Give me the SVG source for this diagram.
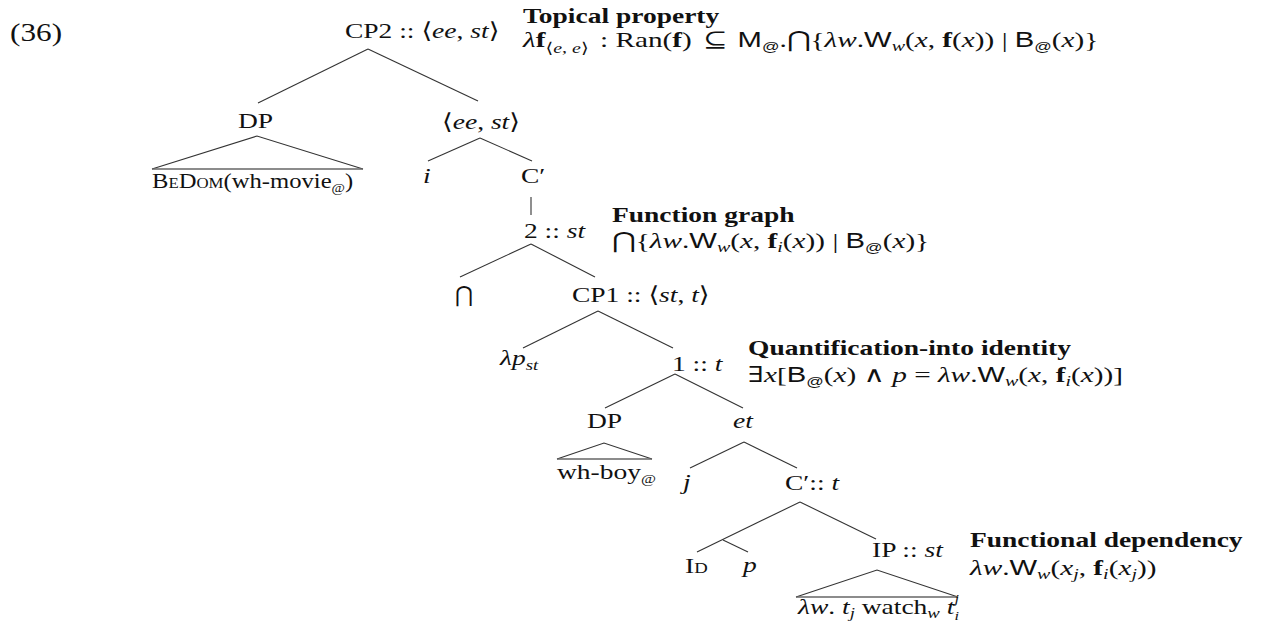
<svg xmlns="http://www.w3.org/2000/svg" width="1261" height="636" viewBox="0 0 1261 636">
<style>
text { font-family: "Liberation Serif", "DejaVu Serif", serif; font-size: 22px; fill: #111; }
.b { font-weight: bold; }
.it { font-style: italic; }
.bf { font-weight: bold; font-style: normal; }
.sf { font-family: "Liberation Sans", "DejaVu Sans", sans-serif; font-style: normal; }
.sc { font-size: 15px; }
.s { font-size: 15px; }
.ss { font-size: 13px; }
.edge { stroke: #333; stroke-width: 1.1; fill: none; }
.base { stroke: #666; stroke-width: 1.6; fill: none; }
</style>
<rect width="1261" height="636" fill="#fff"/>

<g id="connectors">
  <line class="edge" x1="368" y1="49" x2="258" y2="103"/>
  <line class="edge" x1="368" y1="49" x2="478" y2="101"/>
  <path class="edge" d="M152,169 L257,136 L363,169"/>
  <line class="base" x1="152" y1="169" x2="363" y2="169"/>
  <line class="edge" x1="480" y1="138" x2="428" y2="161"/>
  <line class="edge" x1="480" y1="138" x2="532" y2="161"/>
  <line class="edge" x1="531" y1="197" x2="531" y2="215"/>
  <line class="edge" x1="531" y1="244" x2="460" y2="277"/>
  <line class="edge" x1="531" y1="244" x2="595" y2="277"/>
  <line class="edge" x1="598" y1="311" x2="523" y2="348"/>
  <line class="edge" x1="598" y1="311" x2="673" y2="348"/>
  <line class="edge" x1="675" y1="374" x2="605" y2="408"/>
  <line class="edge" x1="675" y1="374" x2="743" y2="408"/>
  <path class="edge" d="M557,459 L604,443 L652,459"/>
  <line class="base" x1="557" y1="459" x2="652" y2="459"/>
  <line class="edge" x1="744" y1="442" x2="690" y2="468"/>
  <line class="edge" x1="744" y1="442" x2="797" y2="468"/>
  <line class="edge" x1="800" y1="502" x2="697" y2="552"/>
  <line class="edge" x1="723" y1="540" x2="748" y2="552"/>
  <line class="edge" x1="800" y1="502" x2="876" y2="539"/>
  <path class="edge" d="M796,597 L877,570 L958,597"/>
  <line class="base" x1="796" y1="597" x2="958" y2="597"/>
</g>

<g id="ex-number"><text transform="translate(10 41) scale(1.25 1)" style="font-size:25px">(36)</text></g>

<g id="cp2"><text transform="translate(345 38) scale(1.25 1)">CP2 :: ⟨<tspan class="it">ee</tspan>, <tspan class="it">st</tspan>⟩</text></g>

<g id="ann-topical">
  <text class="b" transform="translate(523 23) scale(1.25 1)">Topical property</text>
  <text transform="translate(523 47) scale(1.33 1)"><tspan class="it">λ</tspan><tspan class="bf">f</tspan><tspan class="s" dy="6">⟨<tspan class="it">e</tspan>, <tspan class="it">e</tspan>⟩</tspan><tspan dy="-6" dx="3"> : Ran(</tspan><tspan class="bf">f</tspan>)<tspan dx="3"> ⊆ </tspan><tspan class="sf" dx="2">M</tspan><tspan class="sf ss" dy="4">@</tspan><tspan dy="-4">.⋂{</tspan><tspan class="it">λw</tspan>.<tspan class="sf">W</tspan><tspan class="it s" dy="4">w</tspan><tspan dy="-4">(</tspan><tspan class="it">x</tspan>, <tspan class="bf">f</tspan>(<tspan class="it">x</tspan>)) | <tspan class="sf">B</tspan><tspan class="sf ss" dy="4">@</tspan><tspan dy="-4">(</tspan><tspan class="it">x</tspan>)}</text>
</g>

<g id="dp1"><text transform="translate(238 128) scale(1.25 1)">DP</text></g>
<g id="bedom"><text transform="translate(152 188) scale(1.12 1)">B<tspan class="sc">E</tspan>D<tspan class="sc">OM</tspan>(wh-movie<tspan class="ss" dy="4">@</tspan><tspan dy="-4">)</tspan></text></g>

<g id="ee-st"><text transform="translate(442 129) scale(1.25 1)">⟨<tspan class="it">ee</tspan>, <tspan class="it">st</tspan>⟩</text></g>
<g id="i"><text class="it" transform="translate(423 183) scale(1.25 1)">i</text></g>
<g id="cbar"><text transform="translate(521 183) scale(1.25 1)">C′</text></g>

<g id="two"><text transform="translate(524 238) scale(1.25 1)">2 :: <tspan class="it">st</tspan></text></g>
<g id="ann-function-graph">
  <text class="b" transform="translate(612 222) scale(1.25 1)">Function graph</text>
  <text transform="translate(612 248) scale(1.33 1)">⋂{<tspan class="it">λw</tspan>.<tspan class="sf">W</tspan><tspan class="it s" dy="4">w</tspan><tspan dy="-4">(</tspan><tspan class="it">x</tspan>, <tspan class="bf">f</tspan><tspan class="it s" dy="4">i</tspan><tspan dy="-4">(</tspan><tspan class="it">x</tspan>)) | <tspan class="sf">B</tspan><tspan class="sf ss" dy="4">@</tspan><tspan dy="-4">(</tspan><tspan class="it">x</tspan>)}</text>
</g>

<g id="bigcap"><text transform="translate(455 302)">⋂</text></g>
<g id="cp1"><text transform="translate(572 302) scale(1.25 1)">CP1 :: ⟨<tspan class="it">st</tspan>, <tspan class="it">t</tspan>⟩</text></g>

<g id="lambda-p"><text transform="translate(500 365) scale(1.25 1)"><tspan class="it">λp</tspan><tspan class="it s" dy="5">st</tspan></text></g>
<g id="one"><text transform="translate(672 371) scale(1.25 1)">1 :: <tspan class="it">t</tspan></text></g>
<g id="ann-quantification">
  <text class="b" transform="translate(748 355) scale(1.25 1)">Quantification-into identity</text>
  <text transform="translate(748 382) scale(1.33 1)">∃<tspan class="it">x</tspan>[<tspan class="sf">B</tspan><tspan class="sf ss" dy="4">@</tspan><tspan dy="-4">(</tspan><tspan class="it">x</tspan>) ∧ <tspan class="it">p</tspan> = <tspan class="it">λw</tspan>.<tspan class="sf">W</tspan><tspan class="it s" dy="4">w</tspan><tspan dy="-4">(</tspan><tspan class="it">x</tspan>, <tspan class="bf">f</tspan><tspan class="it s" dy="4">i</tspan><tspan dy="-4">(</tspan><tspan class="it">x</tspan>))]</text>
</g>

<g id="dp2"><text transform="translate(587 428) scale(1.25 1)">DP</text></g>
<g id="whboy"><text transform="translate(557 479) scale(1.25 1)">wh-boy<tspan class="ss" dy="4">@</tspan></text></g>
<g id="et"><text class="it" transform="translate(733 428) scale(1.25 1)">et</text></g>

<g id="j"><text class="it" transform="translate(683 489) scale(1.25 1)">j</text></g>
<g id="cbar-t"><text transform="translate(785 490) scale(1.25 1)">C′:: <tspan class="it">t</tspan></text></g>

<g id="id"><text transform="translate(685 573) scale(1.25 1)">I<tspan class="sc">D</tspan></text></g>
<g id="p"><text class="it" transform="translate(743 572) scale(1.25 1)">p</text></g>
<g id="ip"><text transform="translate(872 557) scale(1.25 1)">IP :: <tspan class="it">st</tspan></text></g>
<g id="ann-functional">
  <text class="b" transform="translate(970 547) scale(1.25 1)">Functional dependency</text>
  <text transform="translate(970 575) scale(1.33 1)"><tspan class="it">λw</tspan>.<tspan class="sf">W</tspan><tspan class="it s" dy="4">w</tspan><tspan dy="-4">(</tspan><tspan class="it">x</tspan><tspan class="it s" dy="4">j</tspan><tspan dy="-4">, </tspan><tspan class="bf">f</tspan><tspan class="it s" dy="4">i</tspan><tspan dy="-4">(</tspan><tspan class="it">x</tspan><tspan class="it s" dy="4">j</tspan><tspan dy="-4">))</tspan></text>
</g>
<g id="ip-leaf"><text transform="translate(798 614) scale(1.25 1)"><tspan class="it">λw</tspan>. <tspan class="it">t</tspan><tspan class="it s" dy="4">j</tspan><tspan dy="-4"> watch</tspan><tspan class="it s" dy="4">w</tspan><tspan dy="-4"> </tspan><tspan class="it">t</tspan><tspan class="it ss" dy="-11">j</tspan><tspan class="it ss" dx="-3.6" dy="17">i</tspan></text></g>
</svg>
